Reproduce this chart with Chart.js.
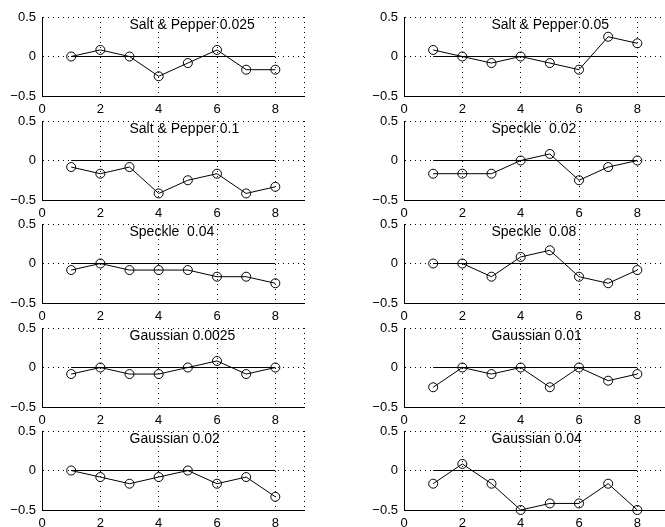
<!DOCTYPE html>
<html>
<head>
<meta charset="utf-8">
<script src="https://cdn.jsdelivr.net/npm/chart.js@4.4.1/dist/chart.umd.min.js"></script>
<style>
  html, body { margin: 0; padding: 0; background: #fff; overflow: hidden; width: 665px; height: 527px; }
  canvas { position: absolute; }
</style>
</head>
<body>
<script>
// run index on the x axis
const runs = [1, 2, 3, 4, 5, 6, 7, 8];
const xTicks = [0, 2, 4, 6, 8, 9];
const yTicks = [-0.5, 0, 0.5];

const panelTitles = [
  'Salt & Pepper 0.025', 'Salt & Pepper 0.05',
  'Salt & Pepper 0.1', 'Speckle  0.02',
  'Speckle  0.04', 'Speckle  0.08',
  'Gaussian 0.0025', 'Gaussian 0.01',
  'Gaussian 0.02', 'Gaussian 0.04'
];

const saltPepper0025 = [0, 0.083, 0, -0.25, -0.083, 0.083, -0.167, -0.167];
const saltPepper005 = [0.083, 0, -0.083, 0, -0.083, -0.167, 0.25, 0.167];
const saltPepper01 = [-0.083, -0.167, -0.083, -0.417, -0.25, -0.167, -0.417, -0.333];
const speckle002 = [-0.167, -0.167, -0.167, 0, 0.083, -0.25, -0.083, 0];
const speckle004 = [-0.083, 0, -0.083, -0.083, -0.083, -0.167, -0.167, -0.25];
const speckle008 = [0, 0, -0.167, 0.083, 0.167, -0.167, -0.25, -0.083];
const gaussian00025 = [-0.083, 0, -0.083, -0.083, 0, 0.083, -0.083, 0];
const gaussian001 = [-0.25, 0, -0.083, 0, -0.25, 0, -0.167, -0.083];
const gaussian002 = [0, -0.083, -0.167, -0.083, 0, -0.167, -0.083, -0.333];
const gaussian004 = [-0.167, 0.083, -0.167, -0.5, -0.417, -0.417, -0.167, -0.5];

const panelSeries = [
  saltPepper0025, saltPepper005,
  saltPepper01, speckle002,
  speckle004, speckle008,
  gaussian00025, gaussian001,
  gaussian002, gaussian004
];

const FONT = { family: '"Liberation Sans", Arial, Helvetica, sans-serif', size: 13 };
const rowTops = [17, 121, 224, 328, 431];
const colLefts = [0, 362];

const titlePlugin = {
  id: 'panelTitle',
  afterDatasetsDraw(chart, args, opts) {
    const ctx = chart.ctx;
    const x = chart.scales.x.getPixelForValue(3);
    const y = chart.scales.y.getPixelForValue(0.4);
    ctx.save();
    ctx.font = `14px ${FONT.family}`;
    ctx.fillStyle = '#000';
    ctx.textAlign = 'left';
    ctx.textBaseline = 'middle';
    ctx.fillText(opts.text, x, y);
    ctx.restore();
  }
};

function buildPanel(i) {
  const canvas = document.createElement('canvas');
  canvas.width = 310;
  canvas.height = 109;
  canvas.style.left = colLefts[i % 2] + 'px';
  canvas.style.top = (rowTops[Math.floor(i / 2)] - 10) + 'px';
  document.body.appendChild(canvas);

  const values = panelSeries[i];
  const points = runs.map((r, k) => ({ x: r, y: values[k] }));
  const zeroLine = [{ x: runs[0], y: 0 }, { x: runs[runs.length - 1], y: 0 }];

  new Chart(canvas.getContext('2d'), {
    type: 'line',
    data: {
      datasets: [
        {
          data: zeroLine,
          borderColor: '#000',
          borderWidth: 1,
          pointRadius: 0,
          clip: false
        },
        {
          data: points,
          borderColor: '#000',
          borderWidth: 1,
          pointRadius: 4.5,
          pointBorderWidth: 1,
          pointBorderColor: '#000',
          pointBackgroundColor: 'rgba(0,0,0,0)',
          clip: false
        }
      ]
    },
    options: {
      responsive: false,
      animation: false,
      devicePixelRatio: 1,
      layout: { padding: { top: 10, right: 2, left: 0, bottom: 0 } },
      plugins: {
        legend: { display: false },
        tooltip: { enabled: false },
        panelTitle: { text: panelTitles[i] }
      },
      scales: {
        x: {
          type: 'linear',
          min: 0,
          max: 9,
          afterBuildTicks: s => { s.ticks = xTicks.map(v => ({ value: v })); },
          afterFit: s => { s.height = 20; s.paddingLeft = 0; s.paddingRight = 0; },
          grid: { color: '#000', lineWidth: 1, drawTicks: false, tickLength: 0 },
          border: { display: true, color: '#000', width: 1, dash: [1, 4] },
          ticks: {
            autoSkip: false,
            maxRotation: 0,
            padding: 6,
            color: '#000',
            font: FONT,
            callback: v => (v === 9 ? '' : String(v))
          }
        },
        y: {
          min: -0.5,
          max: 0.5,
          afterBuildTicks: s => { s.ticks = yTicks.map(v => ({ value: v })); },
          afterFit: s => { s.width = 42; s.paddingTop = 0; s.paddingBottom = 0; },
          grid: { color: '#000', lineWidth: 1, drawTicks: false, tickLength: 0 },
          border: { display: true, color: '#000', width: 1, dash: [1, 4] },
          ticks: {
            padding: 6,
            color: '#000',
            font: FONT,
            callback: v => String(v).replace('-', '\u2212')
          }
        }
      }
    },
    plugins: [titlePlugin]
  });
}

for (let i = 0; i < panelSeries.length; i++) {
  buildPanel(i);
}
</script>
</body>
</html>
